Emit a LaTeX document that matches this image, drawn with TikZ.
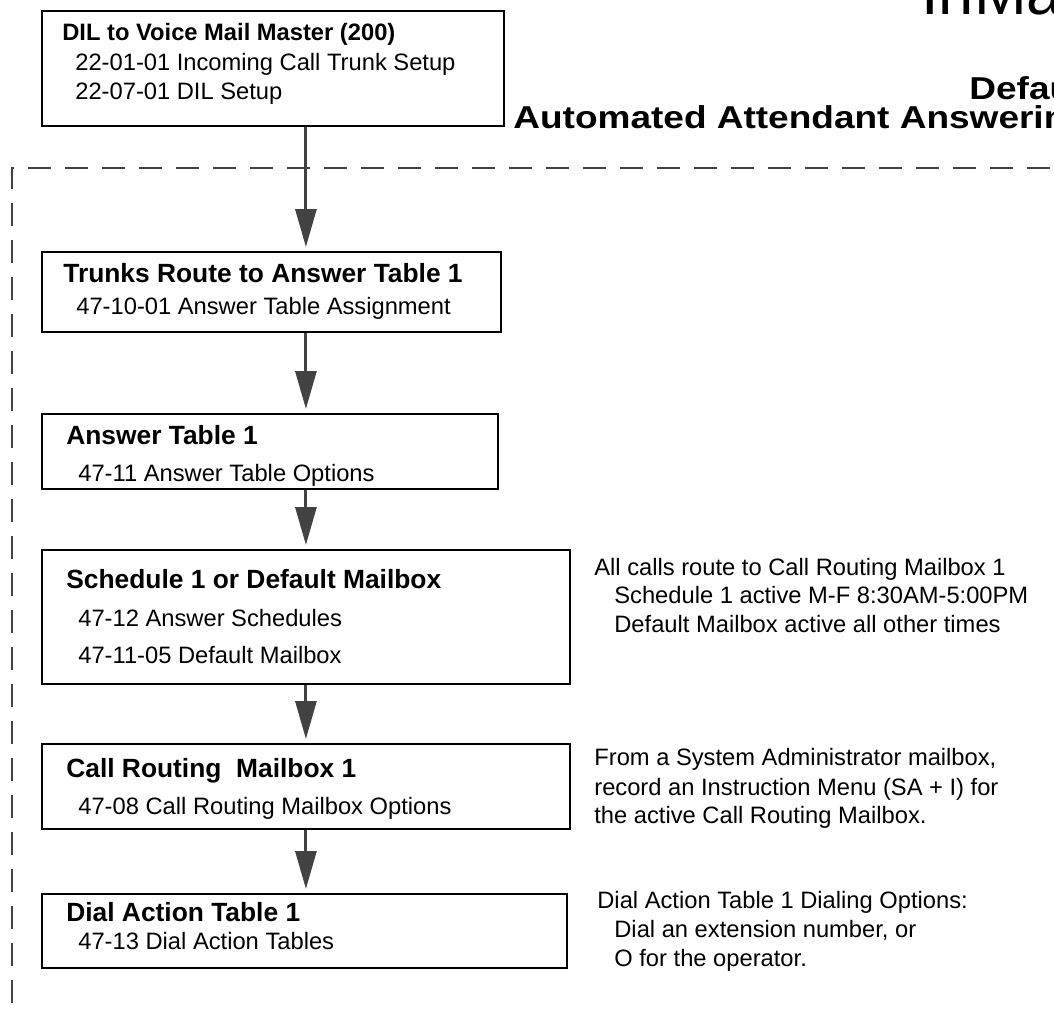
\documentclass[tikz,border=0pt]{standalone}
\usepackage{fontspec}
\setmainfont{Liberation Sans}
\usetikzlibrary{arrows.meta}
\definecolor{flowgray}{HTML}{424242}

\tikzset{
    box/.style={draw=black, line width=1.1pt, anchor=north west, inner sep=0pt},
    boxhead/.style={anchor=base west, inner sep=0pt, font=\fontsize{15}{18}\selectfont\bfseries},
    boxline/.style={anchor=base west, inner sep=0pt, font=\fontsize{13.5}{16}\selectfont},
    bigtitle/.style={anchor=base west, inner sep=0pt, xscale=1.17, transform shape, font=\fontsize{18}{21}\selectfont\bfseries},
    flow/.style={draw=flowgray, line width=1.7pt, -{Triangle[width=0.42cm,length=0.76cm]}, shorten >=0.08cm},
    dashframe/.style={draw=flowgray, line width=1.6pt, dash pattern=on 0.46cm off 0.28cm}
}

\begin{document}
\begin{tikzpicture}[x=0.02cm, y=-0.02cm]

        \useasboundingbox (0,0) rectangle (1054,1010);
        \clip (0,0) rectangle (1054,1010);

        %title
        \node[anchor=base west, inner sep=0pt, font=\fontsize{36}{40}\selectfont] (inmail) at (921,15) {InMa};
        \node[bigtitle] (defau) at (969,100) {Defau};
        \node[bigtitle] (aaa) at (513,129) {Automated Attendant Answerin};

        %dashed frame
        \draw[dashframe] (12,1040) |- (1080,168);

        %boxes
        \node[box, minimum width=9.24cm, minimum height=2.30cm] (dil) at (41,10) {};
        \node[box, minimum width=9.18cm, minimum height=1.60cm] (trunks) at (41,251) {};
        \node[box, minimum width=9.12cm, minimum height=1.50cm] (table) at (41,413) {};
        \node[box, minimum width=10.56cm, minimum height=2.68cm] (sched) at (41,549) {};
        \node[box, minimum width=10.56cm, minimum height=1.70cm] (crm) at (41,743) {};
        \node[box, minimum width=10.50cm, minimum height=1.48cm] (dat) at (41,893) {};

        %box texts
        \node[boxhead, font=\fontsize{13.5}{16}\selectfont\bfseries] (dilhead) at (62,41) {DIL to Voice Mail Master (200)};
        \node[boxline] (dila) at (75,71) {22-01-01 Incoming Call Trunk Setup};
        \node[boxline] (dilb) at (75,100) {22-07-01 DIL Setup};

        \node[boxhead] (trunkshead) at (63,282) {Trunks Route to Answer Table 1};
        \node[boxline] (trunksa) at (76,314) {47-10-01 Answer Table Assignment};

        \node[boxhead] (tablehead) at (66,444) {Answer Table 1};
        \node[boxline] (tablea) at (78,481) {47-11 Answer Table Options};

        \node[boxhead] (schedhead) at (66,588) {Schedule 1 or Default Mailbox};
        \node[boxline] (scheda) at (78,626) {47-12 Answer Schedules};
        \node[boxline] (schedb) at (78,663) {47-11-05 Default Mailbox};

        \node[boxhead] (crmhead) at (66,777) {Call Routing\ \ Mailbox 1};
        \node[boxline] (crma) at (78,814) {47-08 Call Routing Mailbox Options};

        \node[boxhead] (dathead) at (66,921) {Dial Action Table 1};
        \node[boxline] (data) at (78,949) {47-13 Dial Action Tables};

        %notes
        \node[boxline] (notea) at (594,575) {All calls route to Call Routing Mailbox 1};
        \node[boxline] (noteb) at (614,603) {Schedule 1 active M-F 8:30AM-5:00PM};
        \node[boxline] (notec) at (614,632) {Default Mailbox active all other times};

        \node[boxline] (noted) at (594,765) {From a System Administrator mailbox,};
        \node[boxline] (notee) at (594,795) {record an Instruction Menu (SA + I) for};
        \node[boxline] (notef) at (594,823) {the active Call Routing Mailbox.};

        \node[boxline] (noteg) at (597,908) {Dial Action Table 1 Dialing Options:};
        \node[boxline] (noteh) at (614,937) {Dial an extension number, or};
        \node[boxline] (notei) at (614,966) {O for the operator.};

        %arrows
        \draw[flow] (dil.south -| sched.north) -- (trunks.north -| sched.north);
        \draw[flow] (trunks.south -| sched.north) -- (table.north -| sched.north);
        \draw[flow] (table.south -| sched.north) -- (sched.north);
        \draw[flow] (sched.south) -- (crm.north -| sched.south);
        \draw[flow] (crm.south -| sched.south) -- (dat.north -| sched.south);

\end{tikzpicture}
\end{document}
